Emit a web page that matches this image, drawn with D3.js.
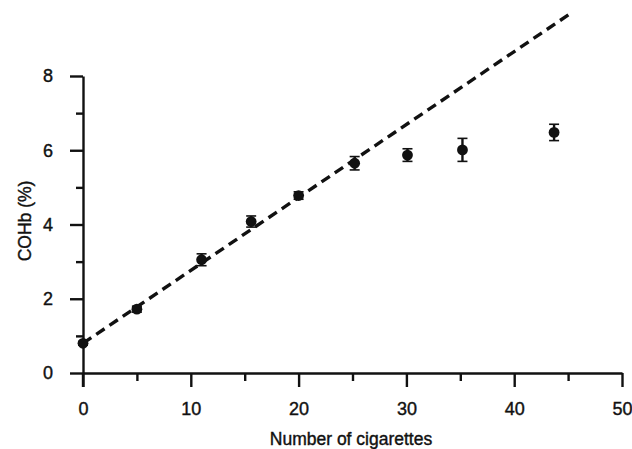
<!DOCTYPE html>
<html><head><meta charset="utf-8">
<script src="https://cdn.jsdelivr.net/npm/d3@7"></script>
<style>body{margin:0;background:#fff}svg{display:block}text{font-family:"Liberation Sans",Arial,sans-serif;fill:#111}</style>
</head><body>
<svg id="c" width="632" height="449"></svg>
<script>
const cigarettes = [0, 5, 11, 15.6, 20, 25.2, 30.1, 35.2, 43.7];
const cohb =       [0.8, 1.72, 3.05, 4.08, 4.78, 5.65, 5.87, 6.01, 6.48];
const cohbErr =    [0.05, 0.08, 0.16, 0.15, 0.1, 0.18, 0.17, 0.31, 0.22];
const fitLine = [[0, 0.8], [45.2, 9.68]];
const xTicks = [0, 10, 20, 30, 40, 50];
const xMinor = [5, 15, 25, 35, 45];
const yTicks = [0, 2, 4, 6, 8];
const yMinor = [1, 3, 5, 7];

const svg = d3.select("#c");
const x = d3.scaleLinear().domain([0, 50]).range([83, 622]);
const y = d3.scaleLinear().domain([0, 8]).range([373, 76]);

const gx = svg.append("g").attr("transform", `translate(0,${y(0)})`)
  .call(d3.axisBottom(x).tickValues(xTicks).tickSize(14).tickPadding(12).tickSizeOuter(0));
gx.append("g").call(d3.axisBottom(x).tickValues(xMinor).tickSize(8).tickFormat("")).select(".domain").remove();
const gy = svg.append("g").attr("transform", `translate(${x(0)},0)`)
  .call(d3.axisLeft(y).tickValues(yTicks).tickSize(13).tickPadding(17).tickSizeOuter(0));
gy.append("g").call(d3.axisLeft(y).tickValues(yMinor).tickSize(7).tickFormat("")).select(".domain").remove();
svg.selectAll(".domain").style("stroke", "#111").style("stroke-width", "2.4px");
svg.selectAll(".tick line").style("stroke", "#111").style("stroke-width", "2.4px");
svg.selectAll(".tick text").style("font-size", "18px").style("font-family", "Liberation Sans, Arial, sans-serif")
  .style("fill", "#111").style("stroke", "#111").style("stroke-width", "0.4px");
gx.selectAll(".tick text").attr("dy", "0.9em");
svg.append("line").attr("x1", x(0)).attr("x2", x(0)).attr("y1", y(0)).attr("y2", y(0) + 14)
  .style("stroke", "#111").style("stroke-width", "2.4px");

svg.append("path").datum(fitLine)
  .attr("d", d3.line().x(d => x(d[0])).y(d => y(d[1])))
  .attr("fill", "none").attr("stroke", "#111").attr("stroke-width", 3.4)
  .attr("stroke-dasharray", "10,6");

const pts = cigarettes.map((c, i) => ({c, v: cohb[i], e: cohbErr[i]}));
const g = svg.append("g");
pts.forEach(p => {
  g.append("line").attr("x1", x(p.c)).attr("x2", x(p.c)).attr("y1", y(p.v - p.e)).attr("y2", y(p.v + p.e))
    .attr("stroke", "#111").attr("stroke-width", 2.4);
  [p.v - p.e, p.v + p.e].forEach(v => g.append("line")
    .attr("x1", x(p.c) - 5).attr("x2", x(p.c) + 5).attr("y1", y(v)).attr("y2", y(v))
    .attr("stroke", "#111").attr("stroke-width", 1.6));
  g.append("circle").attr("cx", x(p.c)).attr("cy", y(p.v)).attr("r", 5.4).attr("fill", "#111");
});

svg.append("text").attr("x", 351).attr("y", 445).attr("text-anchor", "middle")
  .style("font-size", "17.5px").style("stroke", "#111").style("stroke-width", "0.4px").text("Number of cigarettes");
svg.append("text").attr("transform", `translate(31,221) rotate(-90)`).attr("text-anchor", "middle")
  .style("font-size", "17.5px").style("stroke", "#111").style("stroke-width", "0.4px").text("COHb (%)");
</script>
</body></html>
